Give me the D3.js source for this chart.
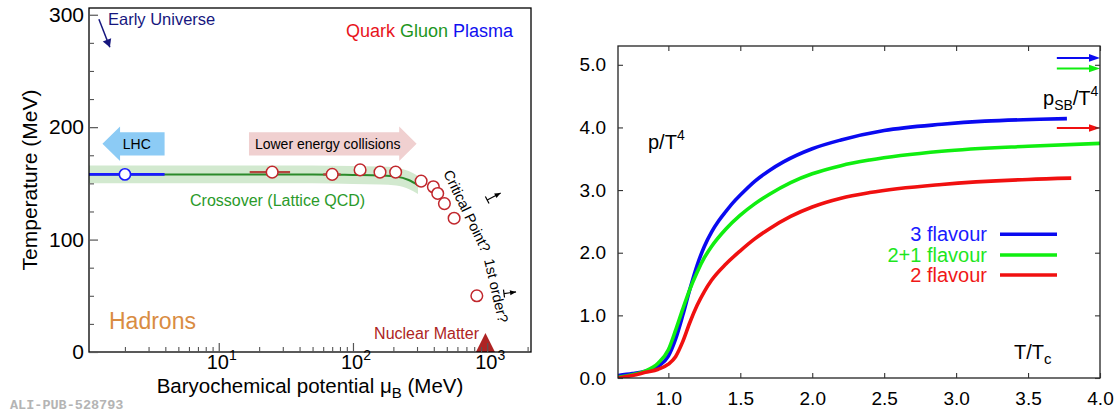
<!DOCTYPE html>
<html>
<head>
<meta charset="utf-8">
<script src="https://cdn.jsdelivr.net/npm/d3@7"></script>
<style>
  body { margin: 0; background: #fff; }
  svg { display: block; font-family: "Liberation Sans", Arial, Helvetica, sans-serif; }
</style>
</head>
<body>
<svg id="chart" width="1118" height="414"></svg>
<script>
// ---------- QCD phase diagram (left) ----------
// chemical freeze-out points: baryochemical potential (MeV) and temperature (MeV)
const freezeMu = [25, 70, 113, 159, 208, 322, 397, 428, 480, 567, 837];
const freezeT  = [160, 158, 162, 160, 160, 152, 147, 141, 132, 119, 50];
// horizontal uncertainties on the two lowest-mu points
const errMuLow  = [17, 60];
const errMuHigh = [34, 81];
const errT      = [160, 158];
// LHC point and its range
const lhcMu = [2];
const lhcT  = [158];
const lhcRangeMu = [1.08, 3.95];
// lattice QCD crossover line and its band half-width
const crossMu = [1.08, 10, 50, 100, 160, 210, 260, 305];
const crossT  = [158, 158, 158, 157.5, 157, 156, 153, 148.5];
const crossBand = 8;
// nuclear matter ground state
const nuclearMu = [970];
const nuclearT  = [0];
// axis ticks
const leftYTicks = [0, 100, 200, 300];
const leftYMinor = [25, 50, 75, 125, 150, 175, 225, 250, 275];
const leftXTicks = [10, 100, 1000];
const leftXExp   = ["1", "2", "3"];

// ---------- pressure over T^4 (right) ----------
const flavours = ["3 flavour", "2+1 flavour", "2 flavour"];
const tBlue = [0.65, 0.75, 0.84, 0.93, 1.0, 1.05, 1.1, 1.15, 1.2, 1.25, 1.3, 1.35, 1.4, 1.45, 1.5, 1.6, 1.7, 1.8, 2.0, 2.2, 2.5, 2.9, 3.2, 3.58, 3.77];
const pBlue = [0.04, 0.07, 0.11, 0.19, 0.35, 0.62, 1.0, 1.42, 1.8, 2.1, 2.33, 2.51, 2.66, 2.80, 2.92, 3.14, 3.31, 3.45, 3.66, 3.80, 3.95, 4.05, 4.10, 4.13, 4.14];
const tGreen = [0.65, 0.75, 0.84, 0.93, 1.0, 1.05, 1.1, 1.15, 1.2, 1.25, 1.3, 1.4, 1.5, 1.6, 1.7, 1.85, 2.0, 2.2, 2.4, 2.9, 3.5, 4.0];
const pGreen = [0.01, 0.05, 0.11, 0.24, 0.45, 0.76, 1.1, 1.42, 1.69, 1.92, 2.1, 2.38, 2.6, 2.78, 2.93, 3.12, 3.26, 3.39, 3.48, 3.62, 3.70, 3.745];
const tRed = [0.65, 0.75, 0.84, 0.93, 1.0, 1.05, 1.1, 1.15, 1.2, 1.25, 1.3, 1.4, 1.5, 1.6, 1.7, 1.85, 2.0, 2.2, 2.4, 2.9, 3.5, 3.8];
const pRed = [0.0, 0.04, 0.09, 0.14, 0.22, 0.34, 0.58, 0.89, 1.16, 1.38, 1.56, 1.82, 2.03, 2.22, 2.38, 2.58, 2.73, 2.87, 2.96, 3.09, 3.17, 3.19];
// Stefan-Boltzmann limits
const sbLimit = [5.11, 4.94, 3.99];
const rightXTicks = [1.0, 1.5, 2.0, 2.5, 3.0, 3.5, 4.0];
const rightYTicks = [0, 1, 2, 3, 4, 5];

const svg = d3.select("#chart");

// helpers
function arrowHead(g, x0, y0, x1, y1, len, half, color) {
  const a = Math.atan2(y1 - y0, x1 - x0);
  const bx = x1 - len * Math.cos(a), by = y1 - len * Math.sin(a);
  const px = -Math.sin(a) * half, py = Math.cos(a) * half;
  g.append("path")
    .attr("d", `M${x1},${y1}L${bx + px},${by + py}L${bx - px},${by - py}Z`)
    .attr("fill", color);
}
function blockArrow(g, xs, yMid, bodyHalf, headHalf, color, yScale) {
  // xs: [tail, neck, tip] in pixels
  const [xt, xn, xp] = xs;
  const yc = yScale(yMid);
  const bh = Math.abs(yScale(yMid + bodyHalf) - yc);
  const hh = Math.abs(yScale(yMid + headHalf) - yc);
  g.append("path")
    .attr("d", `M${xt},${yc - bh}L${xn},${yc - bh}L${xn},${yc - hh}L${xp},${yc}L${xn},${yc + hh}L${xn},${yc + bh}L${xt},${yc + bh}Z`)
    .attr("fill", color);
}

// =============== LEFT PANEL ===============
const L = { x0: 89, x1: 531, y0: 8, y1: 352 };
const xL = d3.scaleLog().domain([1.08, 2120]).range([L.x0, L.x1]);
const yL = d3.scaleLinear().domain([0, 306]).range([L.y1, L.y0]);
const gL = svg.append("g");

// block arrows
blockArrow(gL, [xL(3.95), xL(1.84), xL(1.36)], 185.2, 10.35, 15.4, "#8ccbf5", yL);
blockArrow(gL, [xL(16.8), xL(221), xL(298)], 185.2, 10.35, 15.4, "#f0d0d0", yL);
gL.append("text").attr("x", xL(2.45)).attr("y", yL(185.2) + 5).attr("text-anchor", "middle")
  .attr("font-size", 14).attr("fill", "#000").text("LHC");
gL.append("text").attr("x", xL(18.6)).attr("y", yL(185.2) + 5)
  .attr("font-size", 14).attr("fill", "#000").text("Lower energy collisions");

// crossover band and line
const idx = d3.range(crossMu.length);
gL.append("path")
  .attr("d", d3.area().curve(d3.curveMonotoneX)
    .x(i => xL(crossMu[i])).y0(i => yL(crossT[i] - crossBand)).y1(i => yL(crossT[i] + crossBand))(idx))
  .attr("fill", "#d2e9cf");
gL.append("path")
  .attr("d", d3.line().curve(d3.curveMonotoneX).x(i => xL(crossMu[i])).y(i => yL(crossT[i]))(idx))
  .attr("fill", "none").attr("stroke", "#2a8a2a").attr("stroke-width", 2);

// LHC range and point
gL.append("line").attr("x1", xL(lhcRangeMu[0])).attr("x2", xL(lhcRangeMu[1]))
  .attr("y1", yL(lhcT[0])).attr("y2", yL(lhcT[0]))
  .attr("stroke", "#1a1aff").attr("stroke-width", 2.6);
gL.selectAll(".lhc").data(lhcMu).join("circle").attr("class", "lhc")
  .attr("cx", d => xL(d)).attr("cy", (d, i) => yL(lhcT[i])).attr("r", 5.6)
  .attr("fill", "#fff").attr("stroke", "#1a1aff").attr("stroke-width", 1.6);

// error bars
gL.selectAll(".err").data(errMuLow).join("line").attr("class", "err")
  .attr("x1", d => xL(d)).attr("x2", (d, i) => xL(errMuHigh[i]))
  .attr("y1", (d, i) => yL(errT[i])).attr("y2", (d, i) => yL(errT[i]))
  .attr("stroke", "#b5453f").attr("stroke-width", 2.2);

// freeze-out points
gL.selectAll(".fo").data(freezeMu).join("circle").attr("class", "fo")
  .attr("cx", d => xL(d)).attr("cy", (d, i) => yL(freezeT[i])).attr("r", 5.8)
  .attr("fill", "#fff").attr("stroke", "#c1272d").attr("stroke-width", 1.5);

// nuclear matter marker
nuclearMu.forEach((m, i) => {
  const cx = xL(m), by = yL(nuclearT[i]);
  gL.append("path").attr("d", `M${cx - 9.5},${by}L${cx + 9.5},${by}L${cx},${yL(17)}Z`).attr("fill", "#ae2424");
});

// frame
gL.append("rect").attr("x", L.x0).attr("y", L.y0).attr("width", L.x1 - L.x0).attr("height", L.y1 - L.y0)
  .attr("fill", "none").attr("stroke", "#000").attr("stroke-width", 1.3);

// y axis
const yAxL = gL.append("g").attr("transform", `translate(${L.x0},0)`)
  .call(d3.axisLeft(yL).tickValues(leftYTicks).tickSize(-9).tickPadding(5).tickFormat(d3.format("d")));
yAxL.select(".domain").remove();
yAxL.selectAll("line").attr("stroke", "#555").attr("stroke-width", 1.2);
yAxL.selectAll("text").attr("font-size", 21).attr("font-family", "Liberation Sans, Arial, sans-serif").attr("fill", "#000");
const yAxLm = gL.append("g").attr("transform", `translate(${L.x0},0)`)
  .call(d3.axisLeft(yL).tickValues(leftYMinor).tickSize(-5).tickFormat(""));
yAxLm.select(".domain").remove();
yAxLm.selectAll("line").attr("stroke", "#555").attr("stroke-width", 1.1);

// x axis (log)
const minorX = xL.ticks().filter(v => leftXTicks.indexOf(v) < 0);
const xAxLm = gL.append("g").attr("transform", `translate(0,${L.y1})`)
  .call(d3.axisBottom(xL).tickValues(minorX).tickSize(-5).tickFormat(""));
xAxLm.select(".domain").remove();
xAxLm.selectAll("line").attr("stroke", "#555").attr("stroke-width", 1.1);
const xAxL = gL.append("g").attr("transform", `translate(0,${L.y1})`)
  .call(d3.axisBottom(xL).tickValues(leftXTicks).tickSize(-9).tickFormat(""));
xAxL.select(".domain").remove();
xAxL.selectAll("line").attr("stroke", "#555").attr("stroke-width", 1.2);
leftXTicks.forEach((v, i) => {
  const t = gL.append("text").attr("x", xL(v) + 3).attr("y", 369).attr("text-anchor", "middle")
    .attr("font-size", 20).attr("fill", "#000");
  t.append("tspan").text("10");
  t.append("tspan").attr("dy", -9).attr("font-size", 14).text(leftXExp[i]);
});

// axis titles
gL.append("text").attr("transform", `translate(37,180) rotate(-90)`).attr("text-anchor", "middle")
  .attr("font-size", 21).attr("fill", "#000").text("Temperature (MeV)");
const xt = gL.append("text").attr("x", (L.x0 + L.x1) / 2).attr("y", 393).attr("text-anchor", "middle")
  .attr("font-size", 20.5).attr("fill", "#000");
xt.append("tspan").text("Baryochemical potential \u03bc");
xt.append("tspan").attr("dy", 5).attr("font-size", 15).text("B");
xt.append("tspan").attr("dy", -5).text(" (MeV)");

// annotations
gL.append("text").attr("x", 108).attr("y", 25).attr("font-size", 16.5).attr("fill", "#16167e").text("Early Universe");
{
  const x0 = xL(1.28), y0 = yL(296), x1 = xL(1.545), y1 = yL(271);
  gL.append("line").attr("x1", x0).attr("y1", y0).attr("x2", x1).attr("y2", y1)
    .attr("stroke", "#16167e").attr("stroke-width", 1.5);
  arrowHead(gL, x0, y0, x1, y1, 8, 4.5, "#16167e");
}
const qgp = gL.append("text").attr("x", 513).attr("y", 37).attr("text-anchor", "end").attr("font-size", 18);
qgp.append("tspan").attr("fill", "#e8141c").text("Quark ");
qgp.append("tspan").attr("fill", "#1d961d").text("Gluon ");
qgp.append("tspan").attr("fill", "#1010f0").text("Plasma");

gL.append("text").attr("x", 190).attr("y", 206).attr("font-size", 16).attr("fill", "#2a9a2a").text("Crossover (Lattice QCD)");
gL.append("text").attr("x", 109).attr("y", 329).attr("font-size", 23).attr("fill", "#d98c42").text("Hadrons");
gL.append("text").attr("x", 479).attr("y", 339).attr("text-anchor", "end").attr("font-size", 16).attr("fill", "#ae2424").text("Nuclear Matter");

gL.append("text").attr("transform", `translate(${xL(468)},${yL(159.2)}) rotate(64)`)
  .attr("font-size", 14.5).attr("fill", "#000").text("Critical Point?");
gL.append("text").attr("transform", `translate(${xL(946)},${yL(81.8)}) rotate(77)`)
  .attr("font-size", 14.5).attr("fill", "#000").text("1st order?");

// small direction markers next to the rotated labels
[[1000, 135.2, 1260, 141.4], [1334, 52, 1640, 53.4]].forEach(([m0, t0, m1, t1]) => {
  const x0 = xL(m0), y0 = yL(t0), x1 = xL(m1), y1 = yL(t1);
  gL.append("line").attr("x1", x0).attr("y1", y0).attr("x2", x1).attr("y2", y1)
    .attr("stroke", "#000").attr("stroke-width", 1.2);
  const a = Math.atan2(y1 - y0, x1 - x0);
  const px = -Math.sin(a) * 4, py = Math.cos(a) * 4;
  gL.append("line").attr("x1", x0 + px).attr("y1", y0 + py).attr("x2", x0 - px).attr("y2", y0 - py)
    .attr("stroke", "#000").attr("stroke-width", 1.2);
  arrowHead(gL, x0, y0, x1, y1, 6, 2.5, "#000");
});

// publication tag
svg.append("text").attr("x", 10).attr("y", 409).attr("font-family", "Liberation Mono, monospace")
  .attr("font-weight", "bold").attr("font-size", 13.5).attr("fill", "#b4b4b4").text("ALI-PUB-528793");

// =============== RIGHT PANEL ===============
const R = { x0: 618, x1: 1100, y0: 46, y1: 378 };
const xR = d3.scaleLinear().domain([0.65, 4.0]).range([R.x0, R.x1]);
const yR = d3.scaleLinear().domain([0, 5.3]).range([R.y1, R.y0]);
const gR = svg.append("g");

gR.append("clipPath").attr("id", "rclip").append("rect")
  .attr("x", R.x0).attr("y", R.y0).attr("width", R.x1 - R.x0).attr("height", R.y1 - R.y0);

const series = [
  { t: tBlue, p: pBlue, color: "#0a0af0", text: "#1a1aff" },
  { t: tGreen, p: pGreen, color: "#10ee10", text: "#1ee61e" },
  { t: tRed, p: pRed, color: "#f01010", text: "#f01818" }
];
const curves = gR.append("g").attr("clip-path", "url(#rclip)");
series.forEach(s => {
  curves.append("path")
    .attr("d", d3.line().curve(d3.curveMonotoneX).x(i => xR(s.t[i])).y(i => yR(s.p[i]))(d3.range(s.t.length)))
    .attr("fill", "none").attr("stroke", s.color).attr("stroke-width", 3.6).attr("stroke-linecap", "butt");
});

// Stefan-Boltzmann arrows
sbLimit.forEach((v, i) => {
  const x0 = xR(3.70), x1 = xR(4.0), y = yR(v);
  gR.append("line").attr("x1", x0).attr("x2", x1 - 6).attr("y1", y).attr("y2", y)
    .attr("stroke", series[i].color).attr("stroke-width", 2);
  arrowHead(gR, x0, y, x1, y, 11, 3.8, series[i].color);
});

// frame and ticks
gR.append("rect").attr("x", R.x0).attr("y", R.y0).attr("width", R.x1 - R.x0).attr("height", R.y1 - R.y0)
  .attr("fill", "none").attr("stroke", "#222").attr("stroke-width", 1.3);
const styleAxis = (g) => {
  g.select(".domain").remove();
  g.selectAll("line").attr("stroke", "#333").attr("stroke-width", 1.1);
  g.selectAll("text").attr("font-size", 19).attr("font-family", "Liberation Sans, Arial, sans-serif").attr("fill", "#000");
};
gR.append("g").attr("transform", `translate(0,${R.y1})`)
  .call(d3.axisBottom(xR).tickValues(rightXTicks).tickSize(-5).tickPadding(14).tickFormat(d3.format(".1f"))).call(styleAxis);
gR.append("g").attr("transform", `translate(0,${R.y0})`)
  .call(d3.axisTop(xR).tickValues(rightXTicks).tickSize(-5).tickFormat("")).call(styleAxis);
gR.append("g").attr("transform", `translate(${R.x0},0)`)
  .call(d3.axisLeft(yR).tickValues(rightYTicks).tickSize(-5).tickPadding(12).tickFormat(d3.format(".1f"))).call(styleAxis);
gR.append("g").attr("transform", `translate(${R.x1},0)`)
  .call(d3.axisRight(yR).tickValues(rightYTicks).tickSize(-5).tickFormat("")).call(styleAxis);

// labels
const pl = gR.append("text").attr("x", 648).attr("y", 149).attr("font-size", 20).attr("fill", "#000");
pl.append("tspan").text("p/T");
pl.append("tspan").attr("dy", -9).attr("font-size", 14).text("4");

const psb = gR.append("text").attr("x", 1043).attr("y", 105).attr("font-size", 20).attr("fill", "#000");
psb.append("tspan").text("p");
psb.append("tspan").attr("dy", 5).attr("font-size", 14).text("SB");
psb.append("tspan").attr("dy", -5).text("/T");
psb.append("tspan").attr("dy", -9).attr("font-size", 14).text("4");

const ttc = gR.append("text").attr("x", 1014).attr("y", 359).attr("font-size", 20).attr("fill", "#000");
ttc.append("tspan").text("T/T");
ttc.append("tspan").attr("dy", 5).attr("font-size", 15).text("c");

// legend
const legY = [234.3, 255, 275];
flavours.forEach((f, i) => {
  gR.append("text").attr("x", 987).attr("y", legY[i] + 6.5).attr("text-anchor", "end")
    .attr("font-size", 20).attr("fill", series[i].text).text(f);
  gR.append("line").attr("x1", 1000).attr("x2", 1057).attr("y1", legY[i]).attr("y2", legY[i])
    .attr("stroke", series[i].color).attr("stroke-width", 3.6);
});
</script>
</body>
</html>
